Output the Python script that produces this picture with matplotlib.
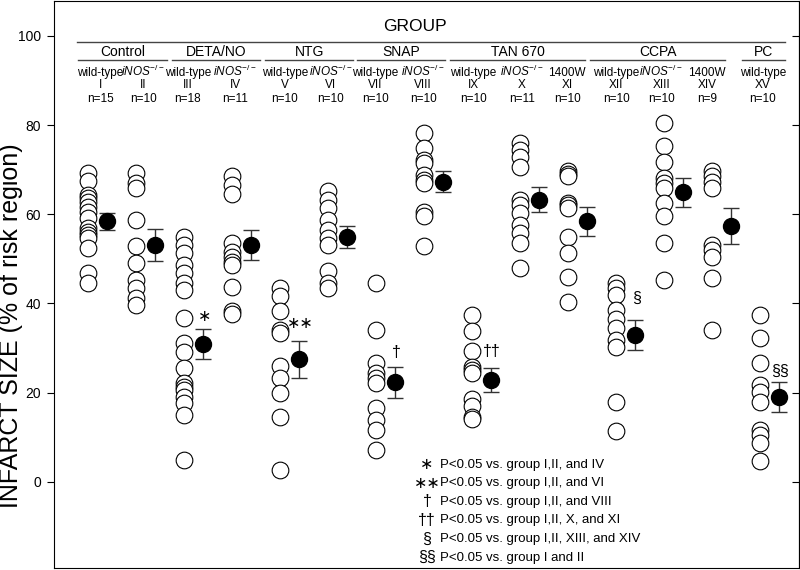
import matplotlib.pyplot as plt

plt.rcParams['font.family'] = ['Liberation Sans', 'DejaVu Sans']
plt.rcParams['mathtext.fontset'] = 'custom'
plt.rcParams['mathtext.rm'] = 'Liberation Sans'
plt.rcParams['mathtext.it'] = 'Liberation Sans:italic'

# individual infarct sizes (% of risk region) for groups I..XV
group_I = [69.2, 67.4, 64.3, 63.6, 62.8, 61.7, 60.6, 59.1, 56.9, 56.1, 55.4, 54.6, 52.4, 46.8, 44.5]
group_II = [69.2, 67.0, 65.9, 58.7, 52.8, 49.0, 45.3, 43.4, 41.2, 39.7]
group_III = [55.0, 53.1, 51.3, 48.7, 46.8, 44.5, 43.0, 36.7, 31.1, 29.2, 25.5, 22.1, 21.3, 20.6,
             19.1, 17.6, 15.0, 4.9]
group_IV = [68.5, 66.6, 64.5, 53.5, 51.6, 50.5, 49.4, 48.7, 43.8, 38.2, 37.6]
group_V = [43.4, 41.6, 38.2, 34.1, 33.3, 25.9, 23.2, 19.9, 14.6, 2.7]
group_VI = [65.1, 63.2, 61.4, 58.7, 56.5, 54.6, 53.1, 47.2, 44.5, 43.4]
group_VII = [44.5, 34.1, 26.6, 24.4, 23.4, 22.1, 16.5, 13.9, 11.7, 7.2]
group_VIII = [78.2, 74.8, 72.2, 71.5, 68.8, 67.7, 67.0, 60.6, 59.5, 52.8]
group_IX = [37.4, 33.9, 29.4, 25.7, 25.0, 24.5, 18.6, 17.1, 14.5, 14.2]
group_X = [75.9, 74.4, 72.9, 70.7, 63.2, 62.1, 60.2, 57.6, 55.8, 53.5, 47.9]
group_XI = [69.6, 69.0, 68.5, 62.5, 62.0, 61.4, 55.0, 51.3, 46.0, 40.4]
group_XII = [44.5, 43.5, 41.9, 38.6, 36.5, 34.5, 31.8, 30.3, 18.0, 11.3]
group_XIII = [80.4, 75.2, 71.8, 68.1, 67.0, 65.9, 62.5, 59.5, 53.5, 45.3]
group_XIV = [69.6, 68.5, 67.3, 65.9, 53.1, 52.0, 50.5, 45.7, 34.1]
group_XV = [37.4, 32.2, 26.6, 21.7, 20.2, 18.0, 11.7, 10.5, 8.7, 4.6]

points = [group_I, group_II, group_III, group_IV, group_V, group_VI, group_VII, group_VIII,
          group_IX, group_X, group_XI, group_XII, group_XIII, group_XIV, group_XV]

means = [58.4, 53.1, 30.9, 53.1, 27.5, 54.9, 22.3, 67.3, 22.9, 63.2, 58.4, 33.0, 64.9, 57.4, 19.0]
sems = [1.9, 3.5, 3.4, 3.3, 4.1, 2.4, 3.4, 2.4, 2.65, 2.8, 3.2, 3.4, 3.3, 4.1, 3.4]

romans = ['I', 'II', 'III', 'IV', 'V', 'VI', 'VII', 'VIII', 'IX', 'X', 'XI', 'XII', 'XIII', 'XIV', 'XV']
strains = ['wild-type', 'iNOS', 'wild-type', 'iNOS', 'wild-type', 'iNOS', 'wild-type', 'iNOS',
           'wild-type', 'iNOS', '1400W', 'wild-type', 'iNOS', '1400W', 'wild-type']
n_sizes = [15, 10, 18, 11, 10, 10, 10, 10, 10, 11, 10, 10, 10, 9, 10]

treatments = ['Control', 'DETA/NO', 'NTG', 'SNAP', 'TAN 670', 'CCPA', 'PC']

footnote_symbols = ['\u2217', '\u2217\u2217', '\u2020', '\u2020\u2020', '\u00a7', '\u00a7\u00a7']
footnote_texts = ['P<0.05 vs. group I,II, and IV',
                  'P<0.05 vs. group I,II, and VI',
                  'P<0.05 vs. group I,II, and VIII',
                  'P<0.05 vs. group I,II, X, and XI',
                  'P<0.05 vs. group I,II, XIII, and XIV',
                  'P<0.05 vs. group I and II']

# which group carries which symbol
sig_groups = [3, 5, 7, 9, 12, 15]

# layout (not data)
label_shift = [0.25, 0.15, 0.08, 0.06, 0.1, 0.06, -0.02, -0.02, 0.02, 0.04, -0.02, 0.0, -0.06, -0.1, 0.06]
treat_spans = [(0.79, 2.65), (2.75, 4.58), (4.69, 6.52), (6.6, 8.44), (8.54, 11.35), (11.46, 14.27),
               (14.63, 15.52)]
sig_y = [37.0, 35.6, 28.9, 29.2, 41.2, 24.7]

fig = plt.figure(figsize=(8, 5.7), dpi=100)
ax = fig.add_axes([53.5 / 800, 1 - 568 / 570, 745 / 800, 567 / 570])

for i, vals in enumerate(points):
    x = i + 1
    ax.plot([x] * len(vals), vals, 'o', markersize=12, markerfacecolor='white',
            markeredgecolor='black', markeredgewidth=0.8, zorder=3)
    ax.errorbar(x + 0.4, means[i], yerr=sems[i], fmt='o', color='black', markersize=11.5,
                ecolor='#333333', elinewidth=1, capsize=6, capthick=1, zorder=4)

# header
ax.text(7.8, 101.0, 'GROUP', ha='center', va='baseline', fontsize=12.5)
ax.plot([0.77, 15.52], [98.7, 98.7], color='#444444', lw=1)
for name, (x0, x1) in zip(treatments, treat_spans):
    ax.plot([x0, x1], [94.6, 94.6], color='#444444', lw=1)
    ax.text((x0 + x1) / 2, 95.4, name, ha='center', va='baseline', fontsize=10)

for i in range(15):
    lx = i + 1 + label_shift[i]
    if strains[i] == 'iNOS':
        lab = r'$\mathit{iNOS}^{\mathrm{-/-}}$'
    else:
        lab = strains[i]
    ax.text(lx, 90.9, lab, ha='center', va='baseline', fontsize=8.5)
    ax.text(lx, 88.2, romans[i], ha='center', va='baseline', fontsize=8.5)
    ax.text(lx, 85.2, f'n={n_sizes[i]}', ha='center', va='baseline', fontsize=8.5)

# significance marks
for sym, g, y in zip(footnote_symbols, sig_groups, sig_y):
    ax.text(g + 0.42, y, sym, ha='center', va='center', fontsize=11.5,
            family=['DejaVu Sans'] if sym.startswith('\u2217') else None)

# footnotes
for k, (sym, txt) in enumerate(zip(footnote_symbols, footnote_texts)):
    y = 3.8 - k * 4.15
    ax.text(8.06, y, sym, ha='center', va='center', fontsize=11.5,
            family=['DejaVu Sans'] if sym.startswith('\u2217') else None)
    ax.text(8.33, y, txt, ha='left', va='center', fontsize=9.5)

ax.set_xlim(0.28, 15.8)
ax.set_ylim(-19.3, 107.8)
ax.set_xticks([])
ax.set_yticks([0, 20, 40, 60, 80, 100])
ax.tick_params(axis='y', direction='out', length=5, width=0.8, pad=4, labelsize=10)
sec = ax.secondary_yaxis('right')
sec.set_yticks([0, 20, 40, 60, 80, 100])
sec.tick_params(direction='in', length=5, width=0.8, labelright=False)
for s in ax.spines.values():
    s.set_linewidth(0.8)

fig.text(11 / 800, 1 - 326 / 570, 'INFARCT SIZE (% of risk region)', rotation=90,
         ha='center', va='center', fontsize=18)

fig.savefig('out.png', dpi=100)
